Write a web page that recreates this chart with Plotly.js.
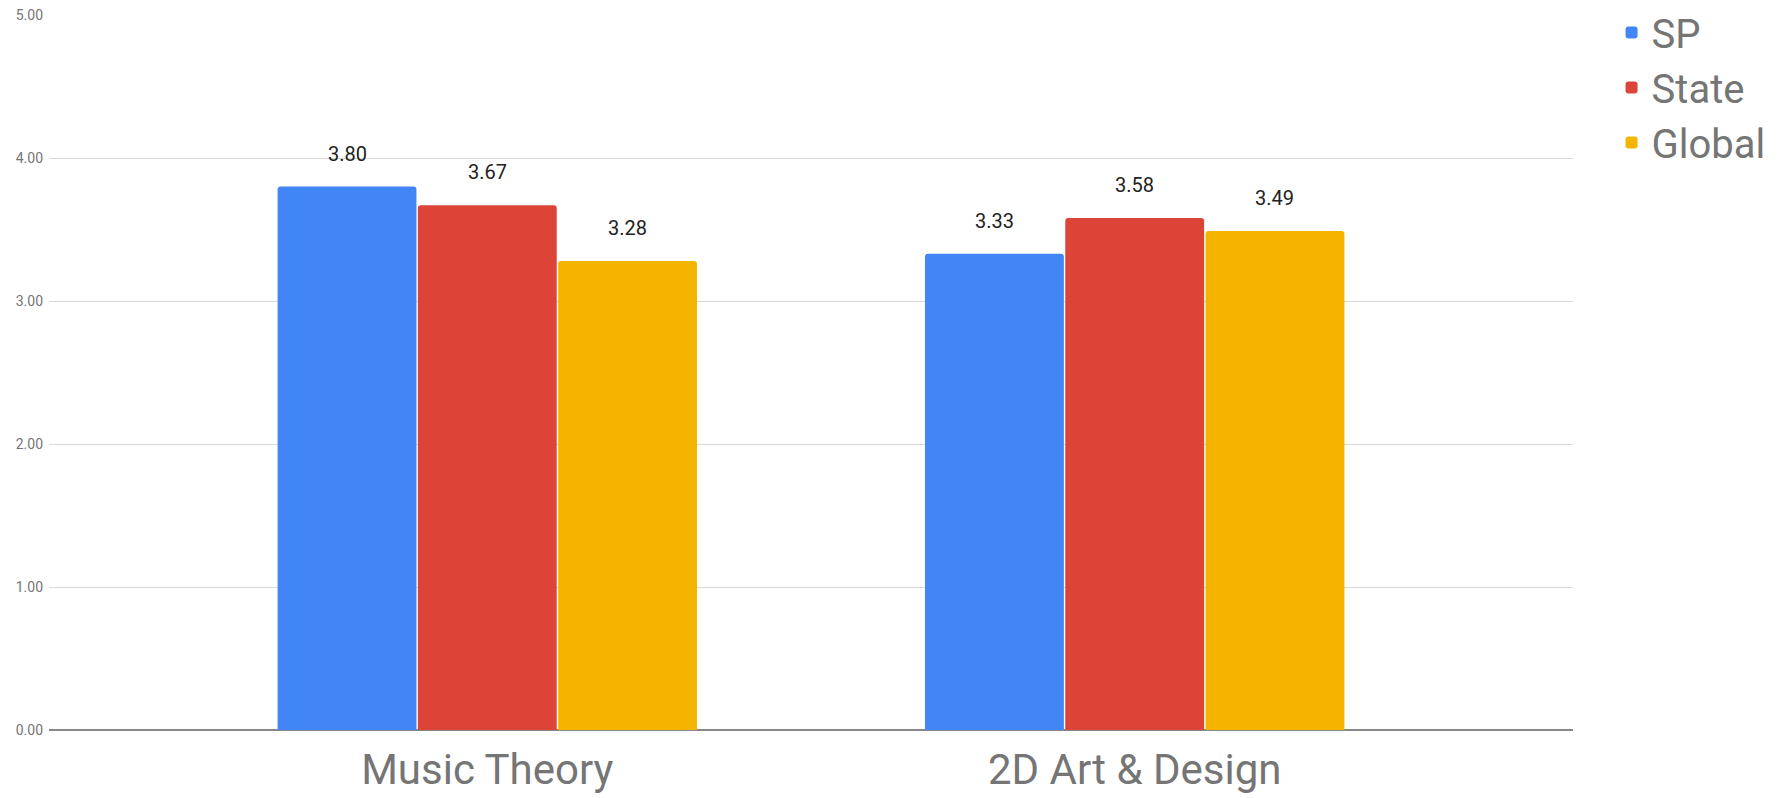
<!DOCTYPE html>
<html>
<head>
<meta charset="utf-8">
<script src="https://cdn.plot.ly/plotly-3.0.1.min.js"></script>
<style>html,body{margin:0;padding:0;background:#fff;}#chart{width:1791px;height:798px;}</style>
</head>
<body>
<div id="chart"></div>
<script>
const categories = ["Music Theory", "2D Art & Design"];
const seriesNames = ["SP", "State", "Global"];
const spValues = [3.80, 3.33];
const stateValues = [3.67, 3.58];
const globalValues = [3.28, 3.49];
const yTickVals = [0, 1, 2, 3, 4, 5];

const seriesValues = [spValues, stateValues, globalValues];
const colors = ["#4285F4", "#DB4437", "#F4B400"];

const groupWidth = 0.65;
const barW = groupWidth / seriesValues.length;

const traces = seriesValues.map((vals, j) => ({
  type: "bar",
  name: seriesNames[j],
  x: categories,
  y: vals,
  marker: { color: colors[j], cornerradius: 3, line: { width: 0 } },
  hoverinfo: "skip"
}));

const annotations = [];
seriesValues.forEach((vals, j) => {
  vals.forEach((v, i) => {
    annotations.push({
      xref: "x", yref: "y",
      x: i + (j - (seriesValues.length - 1) / 2) * barW,
      y: v,
      yshift: 33,
      text: v.toFixed(2),
      showarrow: false,
      font: { family: "Roboto, Arial, sans-serif", size: 20, color: "#222222" },
      xanchor: "center", yanchor: "middle"
    });
  });
});

const layout = {
  width: 1791, height: 798,
  margin: { l: 49, r: 218, t: 15, b: 68, autoexpand: false },
  paper_bgcolor: "#ffffff",
  plot_bgcolor: "#ffffff",
  barmode: "group",
  bargap: 1 - groupWidth,
  bargroupgap: 0.01,
  showlegend: true,
  legend: {
    xref: "paper", x: 1.0253, xanchor: "left",
    yref: "container", y: 1.002, yanchor: "top",
    font: { family: "Roboto, Arial, sans-serif", size: 40, color: "#757575" },
    tracegroupgap: 0, itemwidth: 30
  },
  xaxis: {
    type: "category",
    range: [-0.677, 1.677],
    showgrid: false,
    showline: false,
    zeroline: false,
    ticks: "",
    ticklabelstandoff: 11,
    tickfont: { family: "Roboto, Arial, sans-serif", size: 42, color: "#757575" }
  },
  yaxis: {
    range: [0, 5],
    tickvals: yTickVals,
    tickformat: ".2f",
    showgrid: true,
    gridcolor: "#d9d9d9",
    gridwidth: 1,
    zeroline: true,
    zerolinecolor: "#888888",
    zerolinewidth: 2,
    showline: false,
    ticks: "",
    ticklabelstandoff: 5,
    tickfont: { family: "Roboto, Arial, sans-serif", size: 14, color: "#757575" }
  },
  annotations: annotations
};

Plotly.newPlot("chart", traces, layout, { displayModeBar: false, staticPlot: true });
</script>
</body>
</html>
